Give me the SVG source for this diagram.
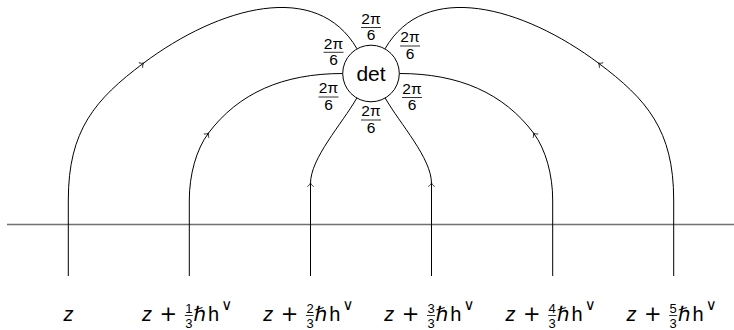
<svg xmlns="http://www.w3.org/2000/svg" width="734" height="330" viewBox="0 0 734 330">
  <defs>
    <marker id="arr" markerUnits="userSpaceOnUse" viewBox="-5 -5 10 10" markerWidth="10" markerHeight="10" refX="0" refY="0" orient="auto" overflow="visible">
      <path d="M -3.2 -3.2 C -2.2 -1.4 -0.6 -0.4 0.4 0 C -0.6 0.4 -2.2 1.4 -3.2 3.2" fill="none" stroke="#000" stroke-width="0.8"/>
    </marker>
  </defs>
  <style>
    .wire { fill: none; stroke: #000; stroke-width: 1; }
    .flow { fill: none; stroke: #000; stroke-width: 1; marker-mid: url(#arr); }
    .axis { fill: none; stroke: #707070; stroke-width: 1.6; }
    .t { font-family: "Liberation Sans", "DejaVu Sans", sans-serif; fill: #000; }
    .fr { font-size: 15.5px; text-anchor: middle; }
    .bar { stroke: #000; stroke-width: 0.8; }
    .big { font-size: 20px; }
    .it { font-style: italic; }
    .sm { font-size: 13px; }
    .dv { font-family: "DejaVu Sans", sans-serif; }
    .plus { font-family: "DejaVu Sans", sans-serif; font-size: 21px; text-anchor: middle; }
    .sup { font-size: 15px; }
    .mid { text-anchor: middle; }
  </style>
  <rect width="734" height="330" fill="#fff"/>

  <line class="axis" x1="7" y1="224.5" x2="734" y2="224.5"/>

  <g id="connectors">
    <path class="wire" d="M 68.3 276 V 200 M 189.3 276 V 200 M 310.5 276 V 200 M 431.5 276 V 200 M 552.7 276 V 200 M 673.7 276 V 200"/>
    <path class="flow" d="M 68.3 200 C 68.3 130 95.3 99.3 143.3 63.3 C 219.3 6.3 317 -20.5 357 48.8"/>
    <path class="flow" d="M 189.3 200 C 189.3 175 196.3 149.3 208.3 133.3 C 238.3 93.3 282.7 73.5 342.7 73.5"/>
    <path class="flow" d="M 310.5 200 L 310.5 183.3 C 310.5 158.3 341.85 124 356.85 98"/>
    <path class="flow" d="M 431.5 200 L 431.5 183.3 C 431.5 158.3 400.15 124 385.15 98"/>
    <path class="flow" d="M 552.7 200 C 552.7 175 545.7 149.3 533.7 133.3 C 503.7 93.3 459.3 73.5 399.3 73.5"/>
    <path class="flow" d="M 673.7 200 C 673.7 130 646.7 99.3 598.7 63.3 C 522.7 6.3 425 -20.5 385 48.8"/>
  </g>

  <g id="det">
    <circle cx="371" cy="73.5" r="28.3" fill="#fff" stroke="#000" stroke-width="1"/>
    <text class="t mid" x="371" y="81" font-size="21">det</text>
  </g>

  <g id="angles">
    <g id="a-top">
      <text class="t fr" x="371" y="23.5">2π</text>
      <line class="bar" x1="361" y1="27.5" x2="381" y2="27.5"/>
      <text class="t fr" x="371" y="40">6</text>
    </g>
    <g id="a-ul">
      <text class="t fr" x="333.5" y="48.5">2π</text>
      <line class="bar" x1="323.5" y1="52.3" x2="343.5" y2="52.3"/>
      <text class="t fr" x="333.5" y="65">6</text>
    </g>
    <g id="a-ur">
      <text class="t fr" x="410" y="42">2π</text>
      <line class="bar" x1="400" y1="46" x2="420" y2="46"/>
      <text class="t fr" x="410" y="58.5">6</text>
    </g>
    <g id="a-ll">
      <text class="t fr" x="328.5" y="93">2π</text>
      <line class="bar" x1="318.5" y1="97" x2="338.5" y2="97"/>
      <text class="t fr" x="328.5" y="109.5">6</text>
    </g>
    <g id="a-lr">
      <text class="t fr" x="412" y="93.5">2π</text>
      <line class="bar" x1="402" y1="97.5" x2="422" y2="97.5"/>
      <text class="t fr" x="412" y="110">6</text>
    </g>
    <g id="a-bot">
      <text class="t fr" x="371" y="116">2π</text>
      <line class="bar" x1="361" y1="120" x2="381" y2="120"/>
      <text class="t fr" x="371" y="133">6</text>
    </g>
  </g>

  <g id="p0">
    <text class="t big it mid" x="68.5" y="321">z</text>
  </g>
  <g id="p1">
    <text class="t big it" x="142" y="321">z</text>
    <text class="t plus" x="168.3" y="321">+</text>
    <text class="t sm mid" x="188.8" y="312.5">1</text>
    <line class="bar" x1="184.8" y1="315.5" x2="192.8" y2="315.5"/>
    <text class="t sm mid" x="188.8" y="327.5">3</text>
    <text class="t big dv" x="193.3" y="321">ℏ</text>
    <text class="t big" x="208" y="321">h</text>
    <text class="t dv sup" x="221.3" y="309.5">∨</text>
  </g>
  <g id="p2">
    <text class="t big it" x="263.2" y="321">z</text>
    <text class="t plus" x="289.5" y="321">+</text>
    <text class="t sm mid" x="310" y="312.5">2</text>
    <line class="bar" x1="306" y1="315.5" x2="314" y2="315.5"/>
    <text class="t sm mid" x="310" y="327.5">3</text>
    <text class="t big dv" x="314.5" y="321">ℏ</text>
    <text class="t big" x="329.2" y="321">h</text>
    <text class="t dv sup" x="342.5" y="309.5">∨</text>
  </g>
  <g id="p3">
    <text class="t big it" x="384.2" y="321">z</text>
    <text class="t plus" x="410.5" y="321">+</text>
    <text class="t sm mid" x="431" y="312.5">3</text>
    <line class="bar" x1="427" y1="315.5" x2="435" y2="315.5"/>
    <text class="t sm mid" x="431" y="327.5">3</text>
    <text class="t big dv" x="435.5" y="321">ℏ</text>
    <text class="t big" x="450.2" y="321">h</text>
    <text class="t dv sup" x="463.5" y="309.5">∨</text>
  </g>
  <g id="p4">
    <text class="t big it" x="505.4" y="321">z</text>
    <text class="t plus" x="531.7" y="321">+</text>
    <text class="t sm mid" x="552.2" y="312.5">4</text>
    <line class="bar" x1="548.2" y1="315.5" x2="556.2" y2="315.5"/>
    <text class="t sm mid" x="552.2" y="327.5">3</text>
    <text class="t big dv" x="556.7" y="321">ℏ</text>
    <text class="t big" x="571.4" y="321">h</text>
    <text class="t dv sup" x="584.7" y="309.5">∨</text>
  </g>
  <g id="p5">
    <text class="t big it" x="626.4" y="321">z</text>
    <text class="t plus" x="652.7" y="321">+</text>
    <text class="t sm mid" x="673.2" y="312.5">5</text>
    <line class="bar" x1="669.2" y1="315.5" x2="677.2" y2="315.5"/>
    <text class="t sm mid" x="673.2" y="327.5">3</text>
    <text class="t big dv" x="677.7" y="321">ℏ</text>
    <text class="t big" x="692.4" y="321">h</text>
    <text class="t dv sup" x="705.7" y="309.5">∨</text>
  </g>
</svg>
